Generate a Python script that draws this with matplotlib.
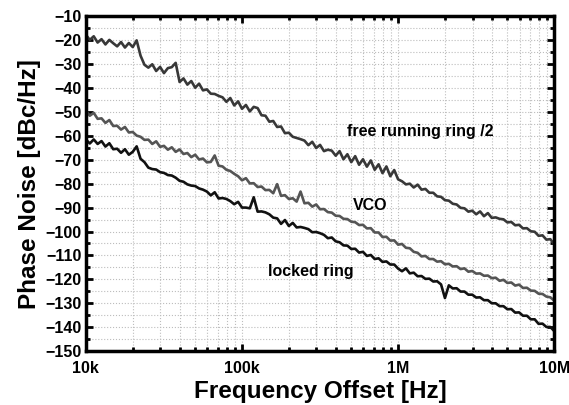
import numpy as np
import matplotlib
matplotlib.use("Agg")
import matplotlib.pyplot as plt
from matplotlib.ticker import LogLocator, MultipleLocator, FixedLocator

# Sweep grid: 40 points per decade from 10k to 10M
freq = np.logspace(4, 7, 121)

# Phase noise traces [dBc/Hz]
free_ring = [
    -17.8, -19.9, -18.4, -21.0, -19.6, -21.8, -19.9, -21.3, -22.6, -20.8,
    -23.1, -21.2, -22.9, -20.1, -26.5, -30.3, -31.5, -30.1, -32.9, -31.2,
    -33.8, -31.7, -31.3, -29.5, -37.5, -36.0, -38.6, -37.1, -39.9, -38.2,
    -41.0, -40.6, -42.4, -42.5, -43.3, -43.9, -45.8, -44.2, -47.3, -45.6,
    -48.7, -47.1, -49.8, -47.9, -48.4, -51.4, -51.6, -54.1, -53.8, -56.3,
    -56.1, -58.9, -58.7, -60.4, -60.9, -61.4, -62.0, -63.9, -62.5, -65.1,
    -63.8, -66.4, -65.8, -66.2, -68.3, -66.4, -69.8, -67.7, -71.0, -68.5,
    -72.1, -69.8, -72.9, -70.3, -74.2, -71.9, -75.6, -72.8, -76.9, -74.3,
    -78.2, -79.0, -80.3, -80.0, -81.6, -80.4, -82.5, -82.2, -83.8, -83.8,
    -85.3, -85.5, -86.9, -87.1, -88.4, -88.7, -90.1, -90.3, -91.7, -91.3,
    -92.8, -91.6, -93.6, -92.3, -94.3, -94.1, -94.7, -94.9, -96.2, -96.0,
    -97.4, -97.2, -98.7, -98.6, -99.9, -100.1, -101.8, -101.6, -103.4, -103.2,
    -105.3,
]
vco = [
    -49.6, -51.6, -50.4, -52.9, -52.7, -54.6, -53.4, -55.9, -55.8, -57.4,
    -56.3, -58.6, -58.4, -59.9, -60.4, -61.7, -61.6, -63.4, -62.3, -64.6,
    -64.2, -65.8, -64.8, -66.7, -65.7, -67.6, -67.2, -68.9, -67.9, -69.9,
    -69.5, -71.1, -70.9, -68.2, -72.5, -72.8, -74.2, -74.7, -75.9, -76.9,
    -78.6, -77.7, -79.9, -79.8, -81.4, -81.2, -82.7, -82.6, -84.0, -80.2,
    -85.1, -84.8, -86.4, -86.1, -87.5, -83.3, -88.2, -88.0, -89.6, -88.7,
    -90.7, -90.6, -91.9, -92.1, -93.4, -93.5, -94.7, -94.8, -95.9, -96.1,
    -97.3, -97.2, -98.7, -98.6, -100.4, -100.4, -102.3, -102.2, -103.8, -103.7,
    -105.5, -105.2, -106.8, -107.0, -108.5, -108.9, -110.4, -110.2, -111.5, -111.5,
    -112.6, -112.4, -113.7, -113.5, -114.6, -114.5, -115.7, -115.4, -116.8, -116.5,
    -117.6, -117.5, -118.5, -118.4, -119.5, -119.3, -120.6, -120.2, -121.5, -121.3,
    -122.6, -122.2, -123.6, -123.5, -124.7, -124.8, -126.0, -126.1, -127.2, -127.5,
    -128.9,
]
locked_ring = [
    -61.6, -63.2, -61.5, -63.4, -62.2, -64.5, -63.1, -65.6, -65.4, -67.1,
    -65.6, -67.9, -66.7, -64.4, -69.6, -71.0, -73.3, -73.9, -74.1, -75.2,
    -75.5, -76.4, -76.6, -77.5, -78.8, -79.2, -80.3, -80.8, -81.0, -82.0,
    -82.5, -83.3, -84.9, -83.6, -86.2, -86.0, -86.4, -87.3, -88.6, -87.6,
    -90.0, -90.0, -90.3, -85.7, -91.7, -91.6, -92.0, -92.8, -94.2, -94.5,
    -96.8, -95.2, -97.7, -96.4, -98.3, -98.1, -98.5, -99.0, -100.3, -100.2,
    -100.7, -101.4, -102.8, -102.5, -104.1, -104.5, -105.8, -105.9, -107.3, -107.2,
    -108.8, -108.5, -110.2, -109.8, -111.5, -111.2, -112.7, -112.5, -113.8, -113.8,
    -115.5, -116.6, -115.4, -117.5, -117.2, -118.7, -118.6, -119.8, -119.7, -120.9,
    -120.8, -122.1, -127.8, -122.5, -123.8, -123.7, -125.1, -125.1, -126.4, -126.4,
    -127.6, -127.5, -128.7, -128.7, -130.0, -130.0, -131.2, -131.2, -132.5, -132.4,
    -133.9, -133.8, -135.2, -135.2, -136.7, -136.7, -138.6, -138.5, -139.9, -139.9,
    -141.6,
]

x_ticks = [1e4, 1e5, 1e6, 1e7]
x_tick_labels = ["10k", "100k", "1M", "10M"]
y_ticks = list(range(-150, -9, 10))

plt.rcParams["font.family"] = ["Liberation Sans", "DejaVu Sans"]
plt.rcParams["font.weight"] = "bold"

fig = plt.figure(figsize=(5.69, 4.05), dpi=100)
ax = fig.add_axes([0.151, 0.133, 0.823, 0.827])

ax.plot(freq, free_ring, color="#383838", lw=1.9)
ax.plot(freq, vco, color="#555555", lw=1.9)
ax.plot(freq, locked_ring, color="#111111", lw=1.9)

ax.set_xscale("log")
ax.set_xlim(1e4, 1e7)
ax.set_ylim(-150, -10)

# ticks on all four sides, pointing inwards
ax.xaxis.set_major_locator(FixedLocator(x_ticks))
ax.set_xticklabels(x_tick_labels)
ax.xaxis.set_minor_locator(LogLocator(base=10, subs=np.arange(2, 10)))
ax.xaxis.set_minor_formatter(plt.NullFormatter())
ax.yaxis.set_major_locator(FixedLocator(y_ticks))
ax.yaxis.set_minor_locator(MultipleLocator(5))
ax.tick_params(which="both", direction="in", top=True, right=True,
               width=2, labelsize=11.5)
ax.tick_params(axis="x", pad=7)
ax.tick_params(axis="y", pad=3)
ax.tick_params(which="major", length=5)
ax.tick_params(which="minor", length=3)

ax.grid(True, which="both", ls=":", color="#bdbdbd", lw=0.8)
for s in ax.spines.values():
    s.set_linewidth(2.5)

ax.set_xlabel("Frequency Offset [Hz]", fontsize=17.5, fontweight="bold", labelpad=3)
ax.set_ylabel("Phase Noise [dBc/Hz]", fontsize=17.5, fontweight="bold", labelpad=3)

# labels next to the traces
ax.text(4.7e5, -58, "free running ring /2", fontsize=11.5, fontweight="bold", va="center")
ax.text(5.15e5, -89, "VCO", fontsize=11.5, fontweight="bold", va="center")
ax.text(1.47e5, -116.6, "locked ring", fontsize=11.5, fontweight="bold", va="center")

fig.savefig("out.png", dpi=100)
